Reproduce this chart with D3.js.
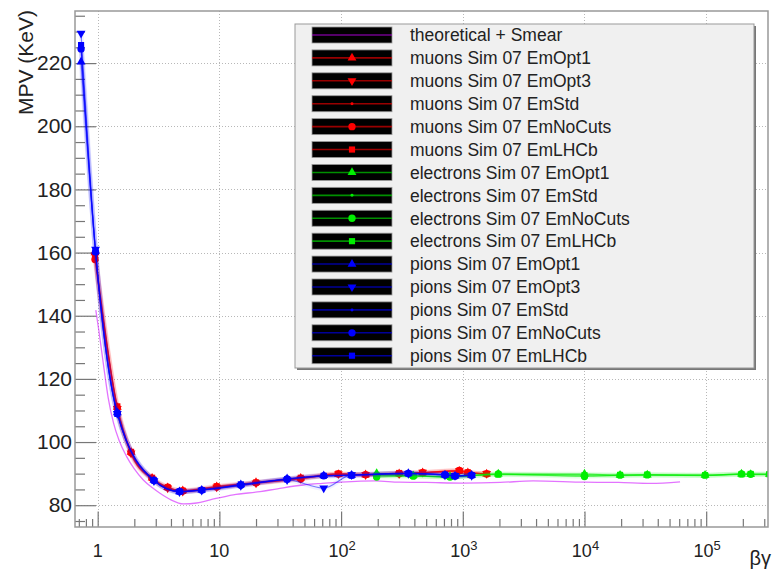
<!DOCTYPE html>
<html>
<head>
<meta charset="utf-8">
<script src="https://cdn.jsdelivr.net/npm/d3@7"></script>
<style>
  html, body { margin: 0; padding: 0; background: #fff; }
  svg { display: block; font-family: "Liberation Sans", Arial, Helvetica, sans-serif; }
</style>
</head>
<body>
<div id="chart"></div>
<script>
// ---------------- DATA ----------------
const bgTheory  = [0.965, 1.025, 1.12, 1.22, 1.35, 1.5, 1.73, 2.0, 2.37, 2.8, 3.25, 4.0, 5.05, 6.5, 8.4, 13, 21.6, 30, 48.6, 70, 100, 190, 300, 500, 1000, 2030, 3780, 10000, 19000, 35000, 61000];
const mpvTheory = [141.8, 135.0, 124.0, 114.0, 106.0, 100.5, 95.4, 91.5, 88.0, 85.6, 83.8, 81.7, 80.4, 80.7, 81.7, 83.3, 84.3, 85.2, 86.4, 86.9, 87.3, 87.7, 87.3, 87.2, 87.0, 87.2, 87.7, 87.3, 87.2, 86.9, 87.4];

const bgMuons  = [0.95, 1.45, 1.88, 2.8, 3.76, 5.0, 9.5, 20, 46.6, 95, 159, 300, 468, 936, 1100, 1570];
const muOpt1   = [160.0, 111.0, 96.8, 88.6, 85.6, 84.6, 85.9, 87.2, 88.6, 89.8, 89.7, 90.0, 90.3, 90.8, 90.3, 89.9];
const muOpt3   = [159.2, 110.6, 96.5, 88.3, 85.4, 84.4, 85.7, 87.0, 88.4, 89.9, 89.6, 89.9, 90.4, 90.9, 90.2, 90.0];
const muStd    = [158.6, 110.2, 96.2, 88.2, 85.3, 84.3, 85.6, 86.9, 88.5, 89.7, 89.8, 90.1, 90.2, 90.6, 90.4, 89.8];
const muNoCuts = [157.8, 110.8, 96.6, 88.5, 85.7, 84.5, 85.8, 87.1, 88.3, 89.9, 89.7, 90.0, 90.3, 91.0, 90.3, 89.9];
const muLHCb   = [159.5, 111.3, 96.9, 88.7, 85.6, 84.6, 86.0, 87.2, 88.7, 90.0, 89.6, 90.2, 90.3, 90.9, 90.4, 90.0];

const bgElectrons = [196, 392, 785, 1958, 10000, 19600, 32800, 97900, 195000, 232000, 330000];
const elOpt1   = [90.1, 89.4, 89.1, 89.9, 89.9, 89.5, 89.6, 89.5, 89.9, 89.8, 89.8];
const elStd    = [89.6, 89.3, 89.0, 89.8, 89.6, 89.4, 89.5, 89.4, 89.8, 89.7, 89.7];
const elNoCuts = [88.9, 89.2, 88.9, 89.9, 89.1, 89.5, 89.6, 89.5, 89.9, 89.8, 89.9];
const elLHCb   = [89.4, 89.3, 89.0, 89.7, 89.5, 89.6, 89.7, 89.5, 89.8, 89.9, 89.8];

const bgPions  = [0.73, 0.96, 1.45, 2.9, 4.7, 7.16, 15, 36, 72, 122, 357, 714, 863, 1183];
const piOpt1   = [220.4, 160.5, 109.3, 87.9, 84.3, 84.8, 86.5, 88.4, 89.4, 89.5, 90.1, 89.6, 89.3, 89.5];
const piOpt3   = [229.4, 161.0, 109.0, 87.7, 84.2, 84.7, 86.2, 88.0, 85.4, 89.6, 90.0, 89.5, 89.4, 89.4];
const piStd    = [225.0, 160.0, 109.1, 87.8, 84.3, 84.9, 86.4, 88.3, 89.2, 89.5, 90.2, 89.7, 89.3, 89.6];
const piNoCuts = [224.5, 160.2, 109.2, 87.8, 84.4, 84.8, 86.3, 88.3, 89.3, 89.5, 90.1, 89.6, 89.2, 89.5];
const piLHCb   = [225.7, 160.3, 108.9, 87.9, 84.3, 84.8, 86.6, 88.2, 89.3, 89.4, 90.0, 89.7, 89.3, 89.5];

const seriesNames = [
  "theoretical + Smear",
  "muons Sim 07 EmOpt1", "muons Sim 07 EmOpt3", "muons Sim 07 EmStd", "muons Sim 07 EmNoCuts", "muons Sim 07 EmLHCb",
  "electrons Sim 07 EmOpt1", "electrons Sim 07 EmStd", "electrons Sim 07 EmNoCuts", "electrons Sim 07 EmLHCb",
  "pions Sim 07 EmOpt1", "pions Sim 07 EmOpt3", "pions Sim 07 EmStd", "pions Sim 07 EmNoCuts", "pions Sim 07 EmLHCb"
];

const yMajorTicks = [80, 100, 120, 140, 160, 180, 200, 220];
const xMajorTicks = [1, 10, 100, 1000, 10000, 100000];
const xTickBase = ["1", "10", "10", "10", "10", "10"];
const xTickExp  = ["", "", "2", "3", "4", "5"];

// ---------------- SETUP ----------------
const W = 773, H = 573;
const L = 75, R = 768, T = 11, B = 527;

const svg = d3.select("#chart").append("svg").attr("width", W).attr("height", H);

const x = d3.scaleLog().domain([0.651, 322000]).range([L, R]);
const y = d3.scaleLinear().domain([73.1, 236.5]).range([B, T]);

const colors = { theory: "#cc00ff", mu: "#ff0000", el: "#00ee00", pi: "#0000ff" };

const series = [
  { name: seriesNames[0], bg: bgTheory, v: mpvTheory, color: colors.theory, marker: null },
  { name: seriesNames[1], bg: bgMuons, v: muOpt1, color: colors.mu, marker: "triUp" },
  { name: seriesNames[2], bg: bgMuons, v: muOpt3, color: colors.mu, marker: "triDown" },
  { name: seriesNames[3], bg: bgMuons, v: muStd, color: colors.mu, marker: "dot" },
  { name: seriesNames[4], bg: bgMuons, v: muNoCuts, color: colors.mu, marker: "circle" },
  { name: seriesNames[5], bg: bgMuons, v: muLHCb, color: colors.mu, marker: "square" },
  { name: seriesNames[6], bg: bgElectrons, v: elOpt1, color: colors.el, marker: "triUp" },
  { name: seriesNames[7], bg: bgElectrons, v: elStd, color: colors.el, marker: "dot" },
  { name: seriesNames[8], bg: bgElectrons, v: elNoCuts, color: colors.el, marker: "circle" },
  { name: seriesNames[9], bg: bgElectrons, v: elLHCb, color: colors.el, marker: "square" },
  { name: seriesNames[10], bg: bgPions, v: piOpt1, color: colors.pi, marker: "triUp" },
  { name: seriesNames[11], bg: bgPions, v: piOpt3, color: colors.pi, marker: "triDown" },
  { name: seriesNames[12], bg: bgPions, v: piStd, color: colors.pi, marker: "dot" },
  { name: seriesNames[13], bg: bgPions, v: piNoCuts, color: colors.pi, marker: "circle" },
  { name: seriesNames[14], bg: bgPions, v: piLHCb, color: colors.pi, marker: "square" }
];

function symbolPath(kind) {
  if (kind === "triUp") return d3.symbol(d3.symbolTriangle, 34)();
  if (kind === "triDown") return d3.symbol(d3.symbolTriangle, 34)();
  if (kind === "dot") return d3.symbol(d3.symbolCircle, 7)();
  if (kind === "circle") return d3.symbol(d3.symbolCircle, 42)();
  if (kind === "square") return d3.symbol(d3.symbolSquare, 38)();
  return null;
}
function symbolRot(kind) { return kind === "triDown" ? " rotate(180)" : ""; }

// ---------------- GRID ----------------
const grid = svg.append("g").attr("stroke", "#b8b8b8").attr("stroke-width", 1).attr("stroke-dasharray", "1,2");
grid.selectAll("line.gx").data(xMajorTicks).join("line")
  .attr("x1", d => Math.round(x(d)) + 0.5).attr("x2", d => Math.round(x(d)) + 0.5)
  .attr("y1", T).attr("y2", B);
grid.selectAll("line.gy").data(yMajorTicks).join("line")
  .attr("x1", L).attr("x2", R)
  .attr("y1", d => Math.round(y(d)) + 0.5).attr("y2", d => Math.round(y(d)) + 0.5);

// ---------------- AXES ----------------
const yMinor = d3.range(75, 237, 5).filter(v => v % 20 !== 0);
const yMinorAxis = d3.axisLeft(y).tickValues(yMinor).tickSize(-10).tickFormat("");
svg.append("g").attr("transform", `translate(${L},0)`).call(yMinorAxis)
  .call(g => g.select(".domain").remove())
  .call(g => g.selectAll("line").attr("stroke", "#777").attr("stroke-width", 1.2));

const yAxis = d3.axisLeft(y).tickValues(yMajorTicks).tickSize(-21).tickPadding(3).tickFormat(d3.format("d"));
svg.append("g").attr("transform", `translate(${L},0)`).call(yAxis)
  .call(g => g.select(".domain").remove())
  .call(g => g.selectAll("line").attr("stroke", "#777").attr("stroke-width", 1.2))
  .call(g => g.selectAll("text").attr("font-size", 21).attr("fill", "#222")
      .attr("font-family", "Liberation Sans, Arial, sans-serif"));

const xMinor = [];
[0.1, 1, 10, 100, 1000, 10000, 100000].forEach(dec => {
  for (let k = 2; k <= 9; k++) { const v = dec * k; if (v > 0.651 && v < 322000) xMinor.push(v); }
});
const xMinorAxis = d3.axisBottom(x).tickValues(xMinor).tickSize(-8).tickFormat("");
svg.append("g").attr("transform", `translate(0,${B})`).call(xMinorAxis)
  .call(g => g.select(".domain").remove())
  .call(g => g.selectAll("line").attr("stroke", "#777").attr("stroke-width", 1.2));

const xAxis = d3.axisBottom(x).tickValues(xMajorTicks).tickSize(-15.5).tickFormat("");
svg.append("g").attr("transform", `translate(0,${B})`).call(xAxis)
  .call(g => g.select(".domain").remove())
  .call(g => g.selectAll("line").attr("stroke", "#777").attr("stroke-width", 1.2));

// x tick labels with superscripts
const xl = svg.append("g").attr("font-size", 18).attr("fill", "#222").attr("text-anchor", "middle");
xMajorTicks.forEach((t, i) => {
  const txt = xl.append("text").attr("x", x(t) + (xTickExp[i] ? 1 : 0)).attr("y", 557);
  txt.append("tspan").text(xTickBase[i]);
  if (xTickExp[i]) txt.append("tspan").attr("dy", -7).attr("font-size", 13).text(xTickExp[i]);
});

// axis titles
svg.append("text").attr("x", 771).attr("y", 565).attr("text-anchor", "end")
  .attr("font-size", 20).attr("fill", "#222").text("βγ");
svg.append("text").attr("transform", "translate(33,10) rotate(-90)").attr("text-anchor", "end")
  .attr("font-size", 21).attr("fill", "#222").text("MPV (KeV)");

// ---------------- DATA MARKS ----------------
svg.append("defs").append("clipPath").attr("id", "plotclip")
  .append("rect").attr("x", L).attr("y", T).attr("width", R - L).attr("height", B - T);
const plot = svg.append("g").attr("clip-path", "url(#plotclip)");

const line = d3.line().x(d => x(d[0])).y(d => y(d[1])).curve(d3.curveMonotoneX);

series.forEach(s => {
  const pts = s.bg.map((b, i) => [b, s.v[i]]);
  const g = plot.append("g");
  if (s.marker) {
    g.append("path").attr("d", line(pts)).attr("fill", "none")
      .attr("stroke", s.color).attr("stroke-opacity", 0.06).attr("stroke-width", 5);
  }
  g.append("path").attr("d", line(pts)).attr("fill", "none")
    .attr("stroke", s.color).attr("stroke-opacity", s.marker ? 0.5 : 0.55).attr("stroke-width", s.marker ? 1.2 : 1.3);
  if (s.marker) {
    g.selectAll("path.m").data(pts).join("path").attr("class", "m")
      .attr("d", symbolPath(s.marker))
      .attr("transform", d => `translate(${x(d[0])},${y(d[1])})${symbolRot(s.marker)}`)
      .attr("fill", s.color);
  }
});

// ---------------- FRAME ----------------
svg.append("rect").attr("x", L).attr("y", T).attr("width", R - L).attr("height", B - T)
  .attr("fill", "none").attr("stroke", "#999").attr("stroke-width", 1.5);

// ---------------- LEGEND ----------------
const lgX = 295, lgY = 24, lgW = 459, lgH = 344;
const lg = svg.append("g");
lg.append("rect").attr("x", lgX + 2).attr("y", lgY + 2).attr("width", lgW).attr("height", lgH).attr("fill", "#777");
lg.append("rect").attr("x", lgX).attr("y", lgY).attr("width", lgW).attr("height", lgH)
  .attr("fill", "#f0f0f0").attr("stroke", "#999").attr("stroke-width", 1);

const rowY = d3.scaleLinear().domain([0, seriesNames.length - 1]).range([35, 355.7]);
series.forEach((s, i) => {
  const cy = rowY(i);
  lg.append("rect").attr("x", 312).attr("y", cy - 8).attr("width", 80).attr("height", 16)
    .attr("fill", "#000").attr("stroke", "#999").attr("stroke-width", 0.8);
  lg.append("line").attr("x1", 312).attr("x2", 392).attr("y1", cy).attr("y2", cy)
    .attr("stroke", s.color).attr("stroke-opacity", s.marker ? 0.6 : 0.55).attr("stroke-width", 1.6);
  if (s.marker) {
    lg.append("path").attr("d", symbolPath(s.marker))
      .attr("transform", `translate(352,${cy})${symbolRot(s.marker)}`)
      .attr("fill", s.color);
  }
  lg.append("text").attr("x", 410).attr("y", cy).attr("dy", "0.36em")
    .attr("font-size", 17.5).attr("fill", "#222").text(s.name);
});
</script>
</body>
</html>
